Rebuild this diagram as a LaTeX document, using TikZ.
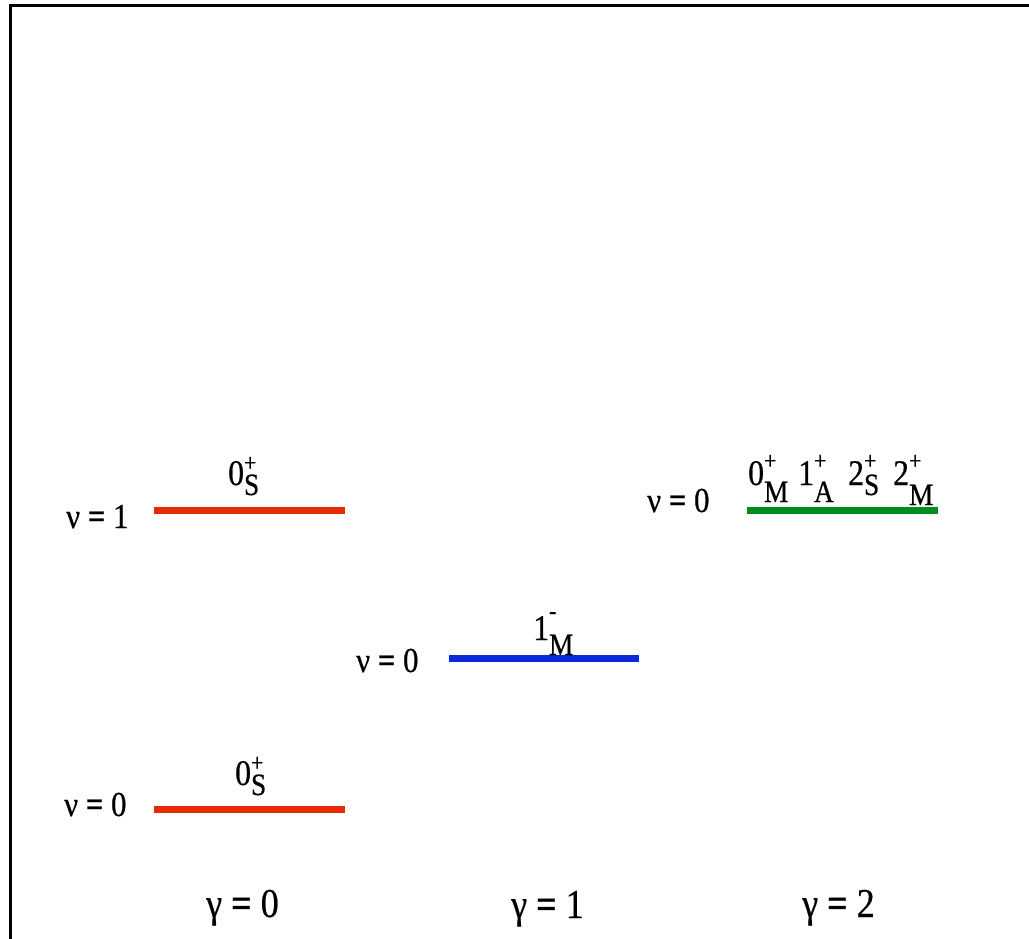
\documentclass[tikz,border=0pt]{standalone}
\usepackage{fontspec}
\setmainfont{Liberation Serif}
\newfontfamily\labfont{Liberation Serif}[FakeBold=0.6, FakeStretch=0.88]
\newcommand\lvlab[5]{#1\rlap{\raisebox{#4}{\fontsize{25}{25}\selectfont #2}}\raisebox{-#5}{\fontsize{31}{31}\selectfont #3}}
\definecolor{lvred}{RGB}{230,44,4}
\definecolor{lvblue}{RGB}{10,40,220}
\definecolor{lvgreen}{RGB}{0,140,30}
\tikzset{
  level/.style={line width=7pt},
  nulab/.style={anchor=base west, inner sep=0pt, font=\labfont\fontsize{35}{35}\selectfont},
  gamlab/.style={anchor=base west, inner sep=0pt, font=\labfont\fontsize{41}{41}\selectfont},
  statelab/.style={anchor=base west, inner sep=0pt, font=\labfont\fontsize{36}{36}\selectfont},
}
\begin{document}
\begin{tikzpicture}[x=1pt,y=-1pt]
\useasboundingbox (0,0) rectangle (1029,939);
\clip (0,0) rectangle (1029,939);
\draw[line width=3.5pt] (10.7,5.3) rectangle (1045,960);
% levels
\coordinate (r1a) at (154,510); \coordinate (r1b) at (345,510);
\coordinate (r0a) at (154,809.5); \coordinate (r0b) at (345,809.5);
\coordinate (b0a) at (449,658.5); \coordinate (b0b) at (639,658.5);
\coordinate (g0a) at (747,510); \coordinate (g0b) at (938,510);
\draw[level, lvred] (r1a) -- (r1b);
\draw[level, lvred] (r0a) -- (r0b);
\draw[level, lvblue] (b0a) -- (b0b);
\draw[level, lvgreen] (g0a) -- (g0b);
% nu labels
\node[nulab] (nu1) at (66,528) {ν \textbf{=} 1};
\node[nulab] (nu0a) at (64,816) {ν \textbf{=} 0};
\node[nulab] (nu0b) at (356,672) {ν \textbf{=} 0};
\node[nulab] (nu0c) at (647,512) {ν \textbf{=} 0};
% gamma labels
\node[gamlab] (ga0) at (206,917) {γ \textbf{=} 0};
\node[gamlab] (ga1) at (511,918) {γ \textbf{=} 1};
\node[gamlab] (ga2) at (802,917) {γ \textbf{=} 2};
% state labels
\node[statelab] (s1) at (228,485) {\lvlab{0}{+}{S}{14pt}{10pt}};
\node[statelab] (s0) at (235,785) {\lvlab{0}{+}{S}{14pt}{10pt}};
\node[statelab] (sb) at (533,640) {\lvlab{1}{-}{M}{21pt}{15pt}};
\node[statelab] (sg0) at (748,485) {\lvlab{0}{+}{M}{16pt}{17pt}};
\node[statelab] (sg1) at (798,485) {\lvlab{1}{+}{A}{16pt}{17pt}};
\node[statelab] (sg2) at (848,485) {\lvlab{2}{+}{S}{16pt}{10pt}};
\node[statelab] (sg3) at (893,485) {\lvlab{2}{+}{M}{16pt}{20pt}};
\end{tikzpicture}
\end{document}
